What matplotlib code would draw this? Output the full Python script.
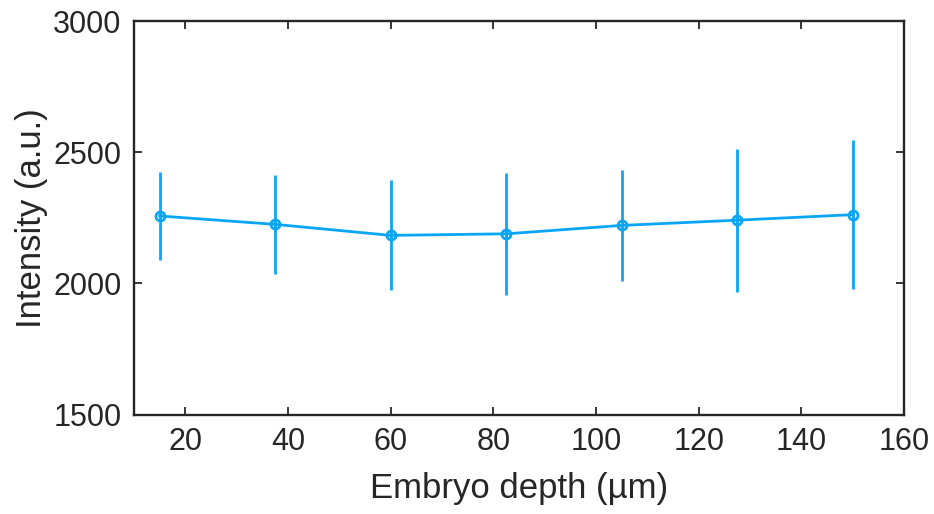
import matplotlib
matplotlib.use('Agg')
import matplotlib.pyplot as plt

# embryo depth (um) and mean intensity with std
depth = [15, 37.5, 60, 82.5, 105, 127.5, 150]
intensity = [2257, 2225, 2183, 2189, 2221, 2241, 2262]
intensity_err = [166, 190, 210, 233, 211, 273, 283]

x_ticks = [20, 40, 60, 80, 100, 120, 140, 160]
y_ticks = [1500, 2000, 2500, 3000]

plt.rcParams['font.family'] = ['Liberation Sans', 'DejaVu Sans']

color = '#0aa6f5'
dark = '#262626'

fig = plt.figure(figsize=(9.34, 5.14), dpi=100)
ax = fig.add_axes([0.1435, 0.1935, 0.8245, 0.7655])

ax.errorbar(depth, intensity, yerr=intensity_err, color=color, lw=2.0,
            elinewidth=2.0, capsize=0, marker='o', markersize=6.5,
            markerfacecolor='none', markeredgewidth=2.0)

ax.set_xlim(10, 160)
ax.set_ylim(1500, 3000)
ax.set_xticks(x_ticks)
ax.set_yticks(y_ticks)

ax.tick_params(direction='in', length=6, width=1.3, colors=dark,
               labelsize=22, top=True, right=True, pad=9)
for side in ax.spines.values():
    side.set_linewidth(1.7)
    side.set_color(dark)

ax.set_xlabel('Embryo depth (µm)', fontsize=25, color=dark, labelpad=11)
ax.set_ylabel('Intensity (a.u.)', fontsize=25, color=dark, labelpad=4)

fig.savefig('out.png', dpi=100, facecolor='white')
